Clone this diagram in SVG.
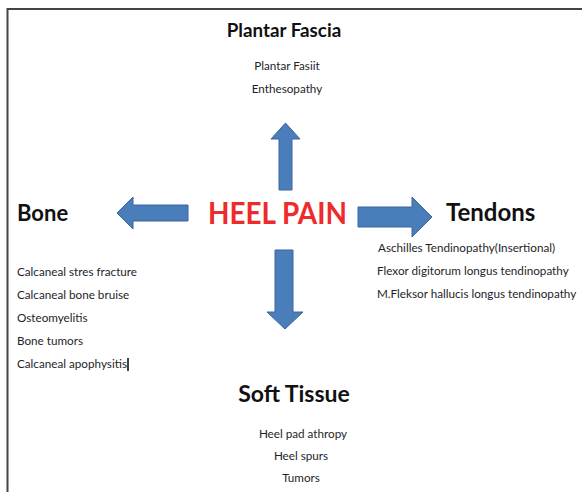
<svg xmlns="http://www.w3.org/2000/svg" width="582" height="492" viewBox="0 0 582 492">
<style>
.h{font-family:Lato,"Open Sans","Liberation Sans",sans-serif;font-weight:bold;fill:#111;}
.t{font-family:Lato,"Open Sans","Liberation Sans",sans-serif;font-size:11.7px;fill:#1e1e2a;}
.arr{fill:#4a7ebb;stroke:#3a64a0;stroke-width:1;}
</style>
<rect width="582" height="492" fill="#fff"/>
<path d="M7.5,492 V9 H582" fill="none" stroke="#444" stroke-width="2"/>
<g id="connectors">
<polygon class="arr" points="279,190 279,139 271,139 285.5,123 300,139 292,139 292,190"/>
<polygon class="arr" points="188,205 133,205 133,197 117,213 133,229 133,221 188,221"/>
<polygon class="arr" points="358,207 412,207 412,197 432,217 412,237 412,227 358,227"/>
<polygon class="arr" points="275,250 275,312 267,312 285,329 303,312 293,312 293,250"/>
</g>
<g id="center">
<text x="277.5" y="224" text-anchor="middle" font-family="Lato,'Open Sans','Liberation Sans',sans-serif" font-size="30" font-weight="bold" fill="#ee2b2b" textLength="139" lengthAdjust="spacingAndGlyphs">HEEL PAIN</text>
</g>
<g id="plantar">
<text class="h" x="284" y="37" text-anchor="middle" font-size="18.8">Plantar Fascia</text>
<text class="t" x="287" y="70" text-anchor="middle">Plantar Fasiit</text>
<text class="t" x="287" y="93" text-anchor="middle">Enthesopathy</text>
</g>
<g id="bone">
<text class="h" x="17" y="221" font-size="22">Bone</text>
<text class="t" x="17" y="276">Calcaneal stres fracture</text>
<text class="t" x="17" y="299">Calcaneal bone bruise</text>
<text class="t" x="17" y="322">Osteomyelitis</text>
<text class="t" x="17" y="345">Bone tumors</text>
<text class="t" x="17" y="368">Calcaneal apophysitis</text>
<line x1="128" y1="358" x2="128" y2="371" stroke="#000" stroke-width="1.5"/>
</g>
<g id="tendons">
<text class="h" x="446" y="221" font-size="24">Tendons</text>
<text class="t" x="378" y="252">Aschilles Tendinopathy(Insertional)</text>
<text class="t" x="377" y="275">Flexor digitorum longus tendinopathy</text>
<text class="t" x="377" y="298">M.Fleksor hallucis longus tendinopathy</text>
</g>
<g id="soft">
<text class="h" x="294" y="402" text-anchor="middle" font-size="23">Soft Tissue</text>
<text class="t" x="303" y="438" text-anchor="middle">Heel pad athropy</text>
<text class="t" x="301" y="460" text-anchor="middle">Heel spurs</text>
<text class="t" x="301" y="482" text-anchor="middle">Tumors</text>
</g>
</svg>
